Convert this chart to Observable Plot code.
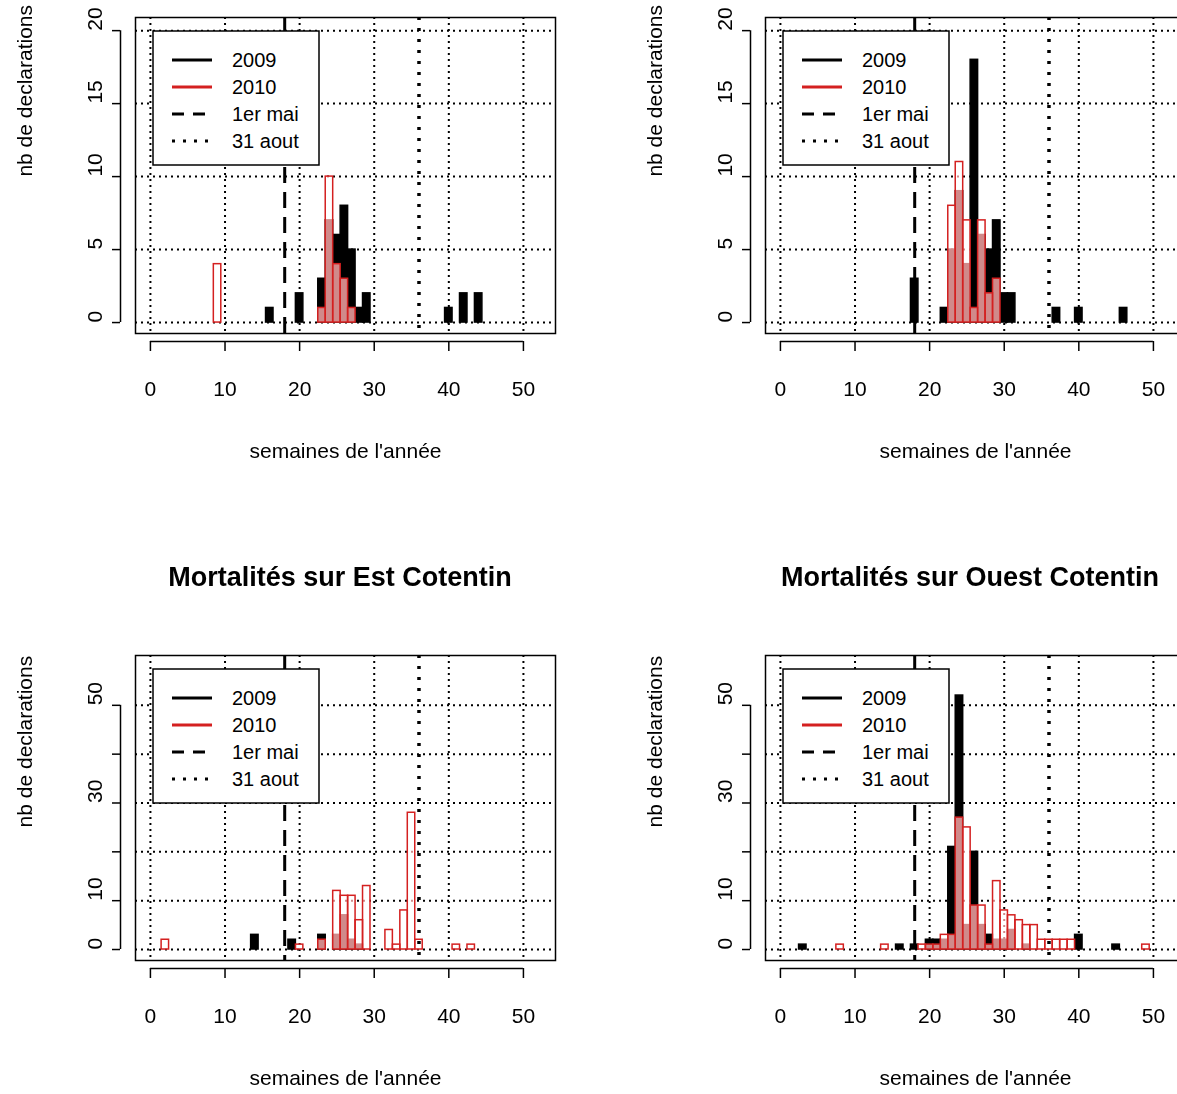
<!DOCTYPE html>
<html><head><meta charset="utf-8">
<script src="https://cdn.jsdelivr.net/npm/d3@7"></script>
<script src="https://cdn.jsdelivr.net/npm/@observablehq/plot@0.6"></script>
<style>
body{margin:0;background:#fff;font-family:"Liberation Sans",Arial,sans-serif;}
#page{position:relative;width:1177px;height:1094px;overflow:hidden;}
.panel{position:absolute;width:630px;height:547px;}
.panel svg{max-width:none !important;}
.title{position:absolute;font-weight:bold;font-size:27px;white-space:nowrap;transform:translateX(-50%);}
</style></head>
<body><div id="page"></div>
<script>
// semaines / nb de declarations
const nordW09 = [16,20,23,24,25,26,27,28,29,40,42,44];
const nordN09 = [1,2,3,7,6,8,5,1,2,1,2,2];
const nordW10 = [9,23,24,25,26,27];
const nordN10 = [4,1,10,4,3,1];

const sudW09 = [18,22,23,24,25,26,27,28,29,30,31,37,40,46];
const sudN09 = [3,1,5,9,4,18,6,5,7,2,2,1,1,1];
const sudW10 = [23,24,25,26,27,28,29];
const sudN10 = [8,11,7,1,7,2,3];

const estW09 = [14,19,23,25,26,27,28];
const estN09 = [3,2,3,3,7,2,1];
const estW10 = [2,20,23,25,26,27,28,29,32,33,34,35,36,41,43];
const estN10 = [2,1,2,12,11,11,6,13,4,1,8,28,2,1,1];

const ouestW09 = [3,16,18,20,21,22,23,24,25,26,27,28,29,30,31,33,40,45];
const ouestN09 = [1,1,1,2,2,2,21,52,5,20,5,3,2,2,4,1,3,1];
const ouestW10 = [8,14,19,20,21,22,23,24,25,26,27,28,29,30,31,32,33,34,35,36,37,38,39,49];
const ouestN10 = [1,1,1,1,1,3,3,27,25,9,9,1,14,8,7,6,5,5,2,2,2,2,2,1];

const xTicks = [0,10,20,30,40,50];
const mai = 18, aout = 36;

const rows = (w, n) => w.map((d, i) => ({w: d, n: n[i]}));
const page = document.getElementById("page");

function panel({left, top, w09, n09, w10, n10, yDomain, yTicks, yLabels, mTop, mBottom, title, titleX}) {
  const ymid = (yTicks[0] + yTicks[yTicks.length - 1]) / 2;
  const bar = {x1: d => d.w - 0.5, x2: d => d.w + 0.5, y1: 0, y2: "n"};
  const chart = Plot.plot({
    width: 630, height: 547,
    marginLeft: 135, marginRight: 75, marginTop: mTop, marginBottom: mBottom,
    style: {fontFamily: "Liberation Sans, Arial, sans-serif", fontSize: "21px", color: "black", background: "white", overflow: "visible"},
    x: {type: "linear", domain: [-2, 54.3], axis: null},
    y: {type: "linear", domain: yDomain, axis: null},
    marks: [
      Plot.gridX(xTicks, {stroke: "black", strokeOpacity: 1, strokeWidth: 2, strokeDasharray: "2,4"}),
      Plot.gridY(yTicks, {stroke: "black", strokeOpacity: 1, strokeWidth: 2, strokeDasharray: "2,4"}),
      Plot.rectY(rows(w09, n09), {...bar, fill: "black", stroke: "black", strokeWidth: 1.5}),
      Plot.rectY(rows(w10, n10), {...bar, fill: "#d08a8a", mixBlendMode: "screen"}),
      Plot.rectY(rows(w10, n10), {...bar, fill: "none", stroke: "#d42020", strokeWidth: 1.5}),
      Plot.ruleX([mai], {stroke: "black", strokeWidth: 3, strokeDasharray: "16,9"}),
      Plot.ruleX([aout], {stroke: "black", strokeWidth: 3.5, strokeDasharray: "3,8"}),
      Plot.frame({stroke: "black", strokeWidth: 1.5}),
      // axe x façon R
      Plot.ruleY([yDomain[0]], {x1: 0, x2: 50, dy: 8, stroke: "black", strokeWidth: 1.5}),
      Plot.axisX(xTicks, {tickSize: 10, tickPadding: 30, dy: 8, fontSize: 21, tickFormat: d => d, label: null, strokeWidth: 1.5}),
      Plot.text(["semaines de l'année"], {frameAnchor: "bottom", dy: 124, fontSize: 21}),
      // axe y
      Plot.ruleX([-2], {y1: yTicks[0], y2: yTicks[yTicks.length - 1], dx: -15, stroke: "black", strokeWidth: 1.5}),
      Plot.axisY(yTicks, {tickSize: 8, dx: -15, tickFormat: () => "", label: null, strokeWidth: 1.5}),
      Plot.text(yLabels, {y: d => d, frameAnchor: "left", dx: -40, rotate: -90, fontSize: 21}),
      Plot.text(["nb de declarations"], {y: () => ymid, frameAnchor: "left", dx: -110, rotate: -90, fontSize: 21})
    ]
  });
  const div = document.createElement("div");
  div.className = "panel";
  div.style.left = left + "px"; div.style.top = top + "px";
  div.appendChild(chart);
  page.appendChild(div);

  // légende
  const lx = left + 152, ly = top + mTop + 13;
  const ns = "http://www.w3.org/2000/svg";
  const svg = document.createElementNS(ns, "svg");
  svg.setAttribute("width", 170); svg.setAttribute("height", 138);
  svg.style.position = "absolute"; svg.style.left = lx + "px"; svg.style.top = ly + "px";
  const items = [["2009", "black", null], ["2010", "#d42020", null], ["1er mai", "black", "12,9"], ["31 aout", "black", "3,8"]];
  let html = `<rect x="1" y="1" width="166" height="134" fill="white" stroke="black" stroke-width="1.5"/>`;
  items.forEach(([t, c, da], i) => {
    const y = 30 + i * 27;
    html += `<line x1="20" x2="60" y1="${y}" y2="${y}" stroke="${c}" stroke-width="3" ${da ? `stroke-dasharray="${da}"` : ""}/>`;
    html += `<text x="80" y="${y + 7}" font-size="20" font-family="Liberation Sans, Arial">${t}</text>`;
  });
  svg.innerHTML = html;
  page.appendChild(svg);

  if (title) {
    const t = document.createElement("div");
    t.className = "title"; t.textContent = title;
    t.style.left = titleX + "px"; t.style.top = (top + 15) + "px";
    page.appendChild(t);
  }
}

const topY = {yDomain: [-0.75, 20.9], yTicks: [0,5,10,15,20], yLabels: [0,5,10,15,20], mTop: 17, mBottom: 214};
const botY = {yDomain: [-2.25, 60.2], yTicks: [0,10,20,30,40,50], yLabels: [0,10,30,50], mTop: 108, mBottom: 134};

panel({left: 0, top: 0, w09: nordW09, n09: nordN09, w10: nordW10, n10: nordN10, ...topY});
panel({left: 630, top: 0, w09: sudW09, n09: sudN09, w10: sudW10, n10: sudN10, ...topY});
panel({left: 0, top: 547, w09: estW09, n09: estN09, w10: estW10, n10: estN10, ...botY, title: "Mortalités sur Est Cotentin", titleX: 340});
panel({left: 630, top: 547, w09: ouestW09, n09: ouestN09, w10: ouestW10, n10: ouestN10, ...botY, title: "Mortalités sur Ouest Cotentin", titleX: 970});
</script></body></html>
